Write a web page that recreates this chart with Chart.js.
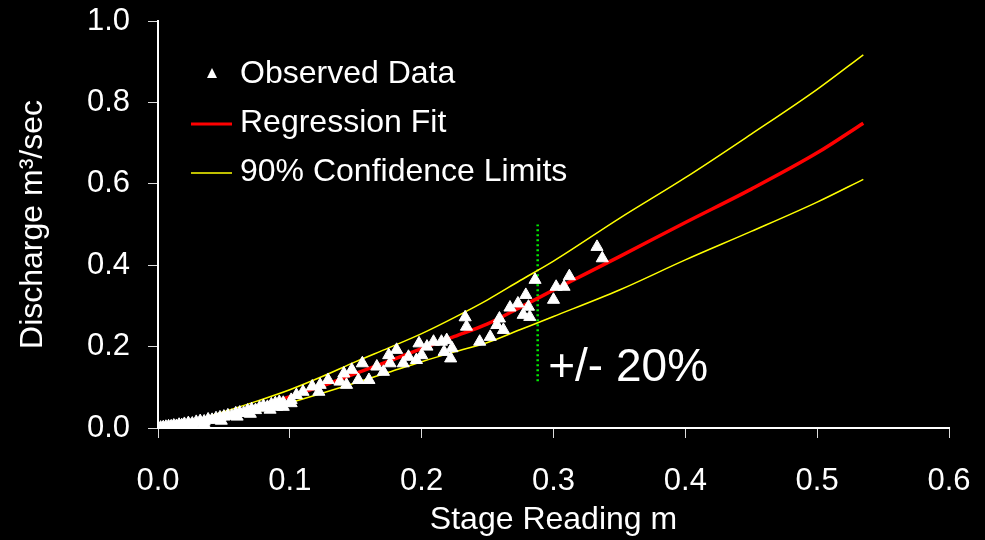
<!DOCTYPE html>
<html lang="en">
<head>
    <meta charset="UTF-8">
    <title>Stage Discharge Rating</title>
    <script src="https://cdn.jsdelivr.net/npm/chart.js"></script>
    <style>
        html, body {
            margin: 0;
            padding: 0;
            background: #000;
        }
        canvas {
            display: block;
        }
    </style>
</head>
<body>
    <canvas id="rating" width="985" height="540"></canvas>

    <script>
        // observed stage (m) / discharge (m3/sec) pairs
        const obsStage = [0.002, 0.004, 0.006, 0.008, 0.010, 0.012, 0.014, 0.016, 0.018, 0.020,
            0.023, 0.026, 0.029, 0.032, 0.035, 0.038, 0.041, 0.044, 0.047, 0.050,
            0.053, 0.056, 0.059, 0.062, 0.065, 0.068, 0.071, 0.074, 0.077, 0.080,
            0.083, 0.086, 0.089, 0.092, 0.095, 0.095, 0.101,
            0.025, 0.035, 0.048, 0.060, 0.070, 0.085, 0.090,
            0.101, 0.105, 0.110, 0.117, 0.122, 0.123, 0.129, 0.138, 0.141, 0.143,
            0.147, 0.152, 0.155, 0.160, 0.166, 0.171, 0.175, 0.176, 0.181, 0.186,
            0.190, 0.196, 0.198, 0.200, 0.204, 0.209, 0.215, 0.217, 0.219, 0.222,
            0.223, 0.233, 0.234, 0.244, 0.252, 0.257, 0.259, 0.262, 0.267, 0.273,
            0.277, 0.279, 0.281, 0.282, 0.286, 0.300, 0.302, 0.308, 0.312, 0.333, 0.337];
        const obsQ = [0.001, 0.002, 0.003, 0.004, 0.004, 0.006, 0.005, 0.008, 0.007, 0.010,
            0.012, 0.011, 0.015, 0.017, 0.016, 0.021, 0.020, 0.024, 0.026, 0.028,
            0.031, 0.030, 0.036, 0.038, 0.037, 0.043, 0.046, 0.044, 0.050, 0.054,
            0.052, 0.058, 0.061, 0.064, 0.062, 0.052, 0.061,
            0.006, 0.010, 0.018, 0.028, 0.035, 0.045, 0.052,
            0.069, 0.081, 0.089, 0.102, 0.089, 0.106, 0.118, 0.114, 0.134, 0.106,
            0.143, 0.118, 0.159, 0.118, 0.151, 0.138, 0.179, 0.159, 0.192, 0.159,
            0.175, 0.167, 0.208, 0.179, 0.200, 0.212, 0.212, 0.187, 0.216, 0.171,
            0.196, 0.272, 0.249, 0.212, 0.224, 0.253, 0.269, 0.241, 0.296, 0.306,
            0.278, 0.327, 0.298, 0.273, 0.364, 0.315, 0.347, 0.347, 0.373, 0.445, 0.417];

        // fitted curve and 90% limits
        const fitStage = [0, 0.025, 0.05, 0.075, 0.10, 0.125, 0.15, 0.175, 0.20, 0.225, 0.25, 0.275, 0.30, 0.35, 0.40, 0.45, 0.50, 0.535];
        const fitQ     = [0, 0.012, 0.030, 0.052, 0.077, 0.104, 0.134, 0.164, 0.195, 0.225, 0.256, 0.297, 0.339, 0.421, 0.505, 0.587, 0.676, 0.749];
        const upperQ   = [0, 0.017, 0.040, 0.066, 0.094, 0.127, 0.163, 0.197, 0.232, 0.272, 0.315, 0.363, 0.410, 0.515, 0.615, 0.722, 0.832, 0.917];
        const lowerQ   = [0, 0.009, 0.021, 0.040, 0.062, 0.086, 0.111, 0.137, 0.163, 0.187, 0.210, 0.242, 0.274, 0.339, 0.413, 0.483, 0.555, 0.611];

        // +/- 20% marker
        const markStage = [0.288, 0.288];
        const markQ = [0.115, 0.500];

        const xTicks = [0, 0.1, 0.2, 0.3, 0.4, 0.5, 0.6];
        const yTicks = [0, 0.2, 0.4, 0.6, 0.8, 1.0];

        const FONT = '"Liberation Sans", Arial, sans-serif';

        function pairs(xs, ys) {
            return xs.map((x, i) => ({ x: x, y: ys[i] }));
        }

        // fixed axis box sizes, no extra label padding around the plot
        function fixBox(s, w, h) {
            if (w) s.width = w;
            if (h) s.height = h;
            s.paddingTop = 0;
            s.paddingBottom = 0;
            s.paddingLeft = 0;
            s.paddingRight = 0;
        }

        // legend + annotation text drawn on the canvas
        const extras = {
            id: 'extras',
            afterDraw(chart) {
                const c = chart.ctx;
                const a = chart.chartArea;
                const xs = chart.scales.x, ys = chart.scales.y;
                c.save();
                c.font = '32px ' + FONT;
                c.fillStyle = '#fff';
                c.textBaseline = 'middle';
                const lx = a.left + 33, tx = a.left + 82;
                let ly = a.top + 53;
                // triangle
                c.beginPath();
                c.moveTo(lx + 21, ly - 6);
                c.lineTo(lx + 26, ly + 4);
                c.lineTo(lx + 16, ly + 4);
                c.closePath();
                c.fill();
                c.fillText('Observed Data', tx, ly);
                ly += 49;
                c.strokeStyle = '#ff0000';
                c.lineWidth = 3;
                c.beginPath(); c.moveTo(lx, ly + 1); c.lineTo(lx + 41, ly + 1); c.stroke();
                c.fillText('Regression Fit', tx, ly);
                ly += 49;
                c.strokeStyle = '#ffff00';
                c.lineWidth = 1.5;
                c.beginPath(); c.moveTo(lx, ly + 1); c.lineTo(lx + 41, ly + 1); c.stroke();
                c.fillText('90% Confidence Limits', tx, ly);

                c.font = '46px ' + FONT;
                c.textBaseline = 'alphabetic';
                c.fillText('+/- 20%', xs.getPixelForValue(0.296), ys.getPixelForValue(0.115));
                c.restore();
            }
        };

        const ctx = document.getElementById('rating').getContext('2d');
        const chart = new Chart(ctx, {
            type: 'scatter',
            data: {
                datasets: [
                    {
                        label: 'Observed Data',
                        data: pairs(obsStage, obsQ),
                        pointStyle: 'triangle',
                        pointRadius: 7,
                        backgroundColor: '#fff',
                        borderColor: '#fff',
                        borderWidth: 1
                    },
                    {
                        label: 'Regression Fit',
                        data: pairs(fitStage, fitQ),
                        showLine: true,
                        pointRadius: 0,
                        borderColor: '#ff0000',
                        borderWidth: 3.5,
                        cubicInterpolationMode: 'monotone'
                    },
                    {
                        label: '90% Confidence Limits',
                        data: pairs(fitStage, upperQ),
                        showLine: true,
                        pointRadius: 0,
                        borderColor: '#ffff00',
                        borderWidth: 1.5,
                        cubicInterpolationMode: 'monotone'
                    },
                    {
                        label: 'lower',
                        data: pairs(fitStage, lowerQ),
                        showLine: true,
                        pointRadius: 0,
                        borderColor: '#ffff00',
                        borderWidth: 1.5,
                        cubicInterpolationMode: 'monotone'
                    },
                    {
                        label: 'band',
                        data: pairs(markStage, markQ),
                        showLine: true,
                        pointRadius: 0,
                        borderColor: '#00ee00',
                        borderWidth: 2.5,
                        borderDash: [2, 3]
                    }
                ]
            },
            options: {
                responsive: false,
                animation: false,
                devicePixelRatio: 1,
                layout: { padding: { left: 0, right: 36, top: 21, bottom: 0 } },
                plugins: {
                    legend: { display: false },
                    tooltip: { enabled: false }
                },
                scales: {
                    x: {
                        type: 'linear',
                        min: 0,
                        max: 0.6,
                        afterBuildTicks: s => { s.ticks = xTicks.map(v => ({ value: v })); },
                        afterFit: s => fixBox(s, 0, 112),
                        border: { display: true, color: '#fff', width: 2 },
                        grid: { drawOnChartArea: false, drawTicks: true, tickLength: 10, color: '#ddd', lineWidth: 1 },
                        ticks: {
                            color: '#fff',
                            font: { family: FONT, size: 31 },
                            padding: 25,
                            maxRotation: 0,
                            callback: v => v.toFixed(1)
                        },
                        title: {
                            display: true,
                            text: 'Stage Reading m',
                            color: '#fff',
                            font: { family: FONT, size: 32 },
                            padding: { top: 0, bottom: 1 }
                        }
                    },
                    y: {
                        type: 'linear',
                        min: 0,
                        max: 1,
                        afterBuildTicks: s => { s.ticks = yTicks.map(v => ({ value: v })); },
                        afterFit: s => fixBox(s, 158, 0),
                        border: { display: true, color: '#fff', width: 2 },
                        grid: { drawOnChartArea: false, drawTicks: true, tickLength: 10, color: '#ddd', lineWidth: 1 },
                        ticks: {
                            color: '#fff',
                            font: { family: FONT, size: 31 },
                            padding: 18,
                            callback: v => v.toFixed(1)
                        },
                        title: {
                            display: true,
                            text: 'Discharge m³/sec',
                            color: '#fff',
                            font: { family: FONT, size: 32 },
                            padding: { top: 14, bottom: 0 }
                        }
                    }
                }
            },
            plugins: [extras]
        });
    </script>
</body>
</html>
